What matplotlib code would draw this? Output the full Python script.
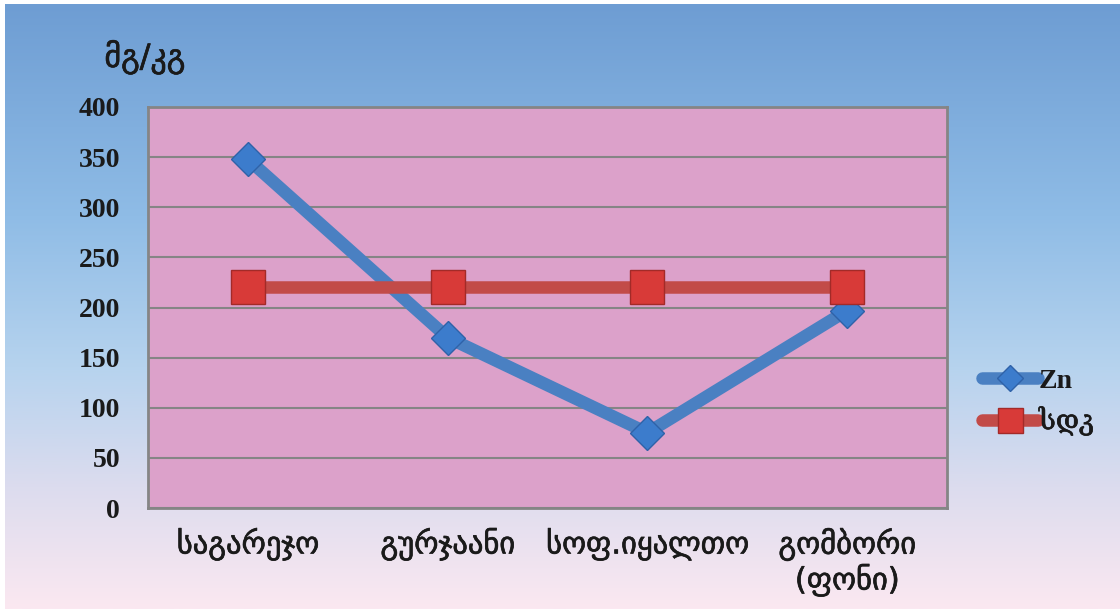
import matplotlib
matplotlib.use('Agg')
import matplotlib.pyplot as plt
import matplotlib.patheffects as pe
from matplotlib.lines import Line2D
import numpy as np
from matplotlib.colors import LinearSegmentedColormap

# data
sites = ['საგარეჯო', 'გურჯაანი', 'სოფ.იყალთო', 'გომბორი\n(ფონი)']
zn = [348, 170, 75, 197]
sdk = [220, 220, 220, 220]
yticks = [0, 50, 100, 150, 200, 250, 300, 350, 400]

blue_line, blue_face, blue_edge = '#4a80c2', '#3c7ccc', '#2f62a8'
red_line, red_face, red_edge = '#c24b48', '#d83a38', '#a32a28'
ink = '#1a1a1a'
thick = [pe.withStroke(linewidth=0.5, foreground=ink)]

fig = plt.figure(figsize=(11.2, 6.11), dpi=100)
fig.patch.set_facecolor('white')

# gradient background (blue top -> pink bottom)
bg = fig.add_axes([5/1120, 2/611, 1 - 5/1120, 1 - 6/611])
cmap = LinearSegmentedColormap.from_list('bg', [
    (0.0, '#6e9dd3'), (0.35, '#8fbce6'), (0.6, '#b6d3ee'),
    (0.8, '#dcdcee'), (1.0, '#fbe8f1')])
grad = np.linspace(0, 1, 256).reshape(-1, 1)
bg.imshow(grad, aspect='auto', cmap=cmap, extent=[0, 1, 0, 1], origin='upper')
bg.set_axis_off()
bg.set_zorder(-10)

ax = fig.add_axes([148/1120, 1 - 508/611, (947 - 148)/1120, (508 - 107)/611])
ax.set_facecolor('#dca1ca')
x = np.arange(len(sites))

ax.plot(x, zn, color=blue_line, lw=9, marker='D', markersize=17,
        markerfacecolor=blue_face, markeredgecolor=blue_edge, markeredgewidth=1,
        zorder=3, solid_capstyle='butt')
ax.plot(x, sdk, color=red_line, lw=9, marker='s', markersize=24,
        markerfacecolor=red_face, markeredgecolor=red_edge, markeredgewidth=1,
        zorder=4, solid_capstyle='butt')

ax.set_xlim(-0.5, len(sites) - 0.5)
ax.set_ylim(0, 400)
ax.set_yticks(yticks)
ax.set_yticklabels([str(v) for v in yticks], fontsize=20, fontweight='bold',
                   family='Liberation Serif', color=ink)
ax.set_xticks(x)
ax.set_xticklabels(sites, fontsize=22, color=ink, family='DejaVu Sans',
                   linespacing=1.1, va='top')
for t in ax.get_xticklabels():
    t.set_path_effects(thick)
ax.tick_params(axis='y', length=0, pad=20)
ax.tick_params(axis='x', length=0, pad=14)
ax.yaxis.grid(True, color='#858585', lw=1.5)
ax.set_axisbelow(True)
for s in ax.spines.values():
    s.set_color('#858585')
    s.set_linewidth(2)

fig.text(145/1120, 1 - 57/611, 'მგ/კგ', fontsize=23, family='DejaVu Sans',
         ha='center', va='center', color=ink, path_effects=thick)

handles = [
    Line2D([], [], color=blue_line, lw=9, solid_capstyle='round', marker='D',
           markersize=13, markerfacecolor=blue_face, markeredgecolor=blue_edge),
    Line2D([], [], color=red_line, lw=9, solid_capstyle='round', marker='s',
           markersize=18, markerfacecolor=red_face, markeredgecolor=red_edge),
]
leg = ax.legend(handles, ['Zn', 'სდკ'], loc='center left',
                bbox_to_anchor=(982/1120, 1 - 402/611),
                bbox_transform=fig.transFigure, frameon=False,
                prop={'size': 20}, handlelength=2.0, handletextpad=0.05,
                labelspacing=0.45, borderpad=0, borderaxespad=0)
for t in leg.get_texts():
    t.set_color(ink)
leg.get_texts()[0].set_fontweight('bold')
leg.get_texts()[0].set_family('Liberation Serif')
leg.get_texts()[1].set_family(['DejaVu Serif', 'DejaVu Sans'])
leg.get_texts()[1].set_path_effects(thick)

plt.savefig('out.png', dpi=100)
